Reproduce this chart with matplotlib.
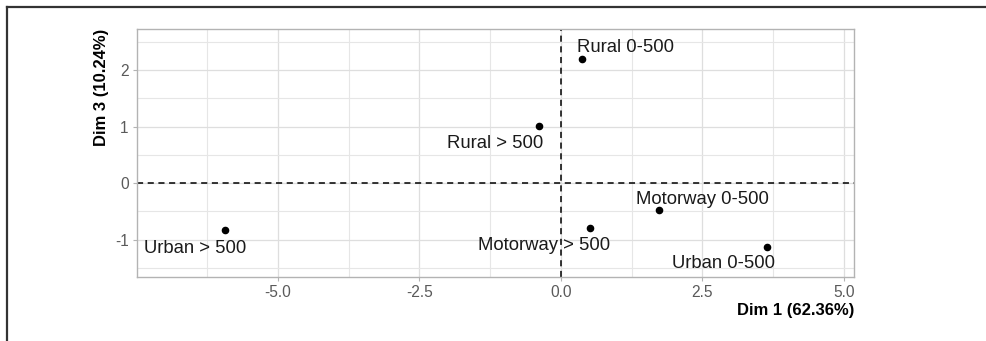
import matplotlib.pyplot as plt

# ---------------------------------------------
# Koordinater for kategorierne (Dim 1 / Dim 3)
# ---------------------------------------------
categories = ["Urban > 500", "Rural 0-500", "Rural > 500",
              "Motorway > 500", "Motorway 0-500", "Urban 0-500"]
dim1 = [-5.94, 0.37, -0.39, 0.51, 1.73, 3.65]
dim3 = [-0.83, 2.19, 1.01, -0.79, -0.48, -1.13]

# label-placering (forskudt som ggrepel gør)
label_x = [-6.47, 1.15, -1.17, -0.30, 2.51, 2.87]
label_y = [-1.15, 2.41, 0.71, -1.10, -0.28, -1.42]

x_ticks = [-5.0, -2.5, 0.0, 2.5, 5.0]
y_ticks = [-1, 0, 1, 2]
x_title = "Dim 1 (62.36%)"
y_title = "Dim 3 (10.24%)"

plt.rcParams['font.family'] = ['Liberation Sans', 'DejaVu Sans']

fig = plt.figure(figsize=(9.87, 3.41), dpi=100)
ax = fig.add_axes([0.1388, 0.1877, 0.7264, 0.7273])

# ramme rundt om figuren (kun top og venstre)
fig.add_artist(plt.Line2D([6.5 / 987, 6.5 / 987], [0, 1 - 6.5 / 341],
                          color='#333333', lw=1.6, transform=fig.transFigure))
fig.add_artist(plt.Line2D([6.5 / 987, 1], [1 - 6.5 / 341, 1 - 6.5 / 341],
                          color='#333333', lw=1.6, transform=fig.transFigure))

ax.set_xlim(-7.49, 5.18)
ax.set_ylim(-1.66, 2.73)

# gitter: hoved og mellemlinjer
ax.set_xticks(x_ticks)
ax.set_xticklabels([f"{t:.1f}" for t in x_ticks])
ax.set_yticks(y_ticks)
ax.set_yticklabels([str(t) for t in y_ticks])
ax.set_xticks([-6.25, -3.75, -1.25, 1.25, 3.75], minor=True)
ax.set_yticks([-1.5, -0.5, 0.5, 1.5, 2.5], minor=True)
ax.grid(True, which='major', color='#dedede', lw=0.9)
ax.grid(True, which='minor', color='#e6e6e6', lw=0.8)
ax.set_axisbelow(True)

for s in ax.spines.values():
    s.set_color('#b3b3b3')
    s.set_linewidth(1.0)

ax.tick_params(which='major', length=3, color='#b3b3b3', labelcolor='#5a5a5a',
               labelsize=11.2, pad=3)
ax.tick_params(which='minor', length=0)

# akser gennem origo
ax.axhline(0, color='black', lw=1.1, ls=(0, (4, 3)))
ax.axvline(0, color='black', lw=1.1, ls=(0, (4, 3)))

ax.scatter(dim1, dim3, s=20, color='black', zorder=3)

for name, lx, ly in zip(categories, label_x, label_y):
    ax.text(lx, ly, name, ha='center', va='center', fontsize=13.3, color='#1a1a1a')

ax.set_xlabel(x_title, fontsize=12, fontweight='bold', loc='right', labelpad=2)
ax.set_ylabel(y_title, fontsize=12, fontweight='bold', loc='top', labelpad=4)

fig.savefig("out.png", dpi=100)
